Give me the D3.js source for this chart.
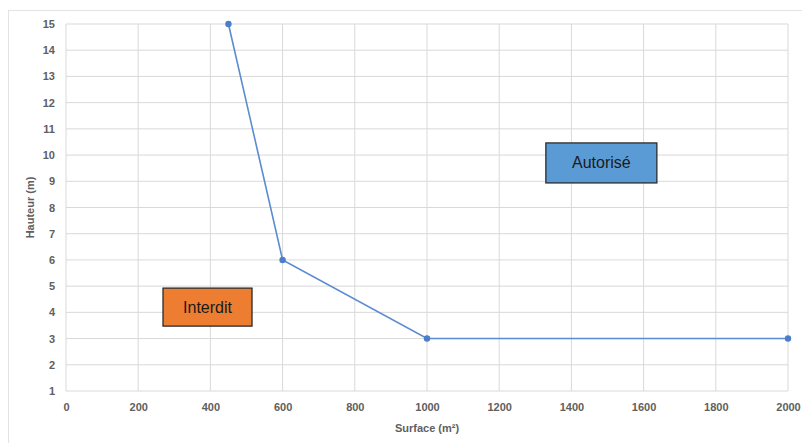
<!DOCTYPE html>
<html><head><meta charset="utf-8">
<script src="https://cdn.jsdelivr.net/npm/d3@7"></script>
<style>body{margin:0;background:#fff}svg{display:block}</style>
</head><body>
<svg id="c" width="802" height="443"></svg>
<script>
const surface = [450, 600, 1000, 2000];
const hauteur = [15, 6, 3, 3];
const xTicks = [0,200,400,600,800,1000,1200,1400,1600,1800,2000];
const yTicks = [1,2,3,4,5,6,7,8,9,10,11,12,13,14,15];
const zoneLabels = ["Interdit", "Autorisé"];
const zoneX = [392, 1483];
const zoneY = [4.2, 9.7];
const zoneColors = ["#ED7D31", "#5B9BD5"];

const svg = d3.select("#c");
const m = {l:66, r:802-788, t:24, b:443-391};
const W = 802, H = 443;
const x = d3.scaleLinear().domain([0,2000]).range([m.l, W-m.r]);
const y = d3.scaleLinear().domain([1,15]).range([H-m.b, m.t]);

svg.append("rect").attr("x",8.5).attr("y",10.5).attr("width",820).attr("height",450)
  .attr("fill","none").attr("stroke","#e3e3e3");

// grid
svg.append("g").selectAll("line").data(xTicks).join("line")
  .attr("x1",d=>x(d)).attr("x2",d=>x(d)).attr("y1",y(1)).attr("y2",y(15))
  .attr("stroke","#d9d9d9").attr("stroke-width",1);
svg.append("g").selectAll("line").data(yTicks).join("line")
  .attr("y1",d=>y(d)).attr("y2",d=>y(d)).attr("x1",x(0)).attr("x2",x(2000))
  .attr("stroke","#d9d9d9").attr("stroke-width",1);

const fontT = "'Liberation Sans', Arial, sans-serif";
// axes
const xa = svg.append("g").attr("transform",`translate(0,${y(1)})`)
  .call(d3.axisBottom(x).tickValues(xTicks).tickSize(0).tickPadding(12).tickFormat(d3.format("d")));
const ya = svg.append("g").attr("transform",`translate(${x(0)},0)`)
  .call(d3.axisLeft(y).tickValues(yTicks).tickSize(0).tickPadding(11).tickFormat(d3.format("d")));
[xa,ya].forEach(a=>{
  a.select(".domain").remove();
  a.selectAll("text").attr("fill","#606060").style("font-family",fontT).style("font-size","11px").style("font-weight","bold");
});

svg.append("text").attr("x",(x(0)+x(2000))/2).attr("y",432).attr("text-anchor","middle")
  .attr("fill","#606060").style("font-family",fontT).style("font-size","11px").style("font-weight","bold")
  .text("Surface (m²)");
svg.append("text").attr("transform",`translate(34,${(y(1)+y(15))/2}) rotate(-90)`).attr("text-anchor","middle")
  .attr("fill","#606060").style("font-family",fontT).style("font-size","11px").style("font-weight","bold")
  .text("Hauteur (m)");

// line
const pts = surface.map((s,i)=>[s,hauteur[i]]);
svg.append("path").datum(pts)
  .attr("d", d3.line().x(d=>x(d[0])).y(d=>y(d[1])))
  .attr("fill","none").attr("stroke","#5B8BD0").attr("stroke-width",1.6);
svg.append("g").selectAll("circle").data(pts).join("circle")
  .attr("cx",d=>x(d[0])).attr("cy",d=>y(d[1])).attr("r",3.2).attr("fill","#4A7EC8");

// zone labels
const boxW = [89, 111], boxH = [38, 40];
zoneLabels.forEach((t,i)=>{
  const cx = x(zoneX[i]), cy = y(zoneY[i]);
  svg.append("rect").attr("x",cx-boxW[i]/2).attr("y",cy-boxH[i]/2).attr("width",boxW[i]).attr("height",boxH[i])
    .attr("fill",zoneColors[i]).attr("stroke","#2b2b2b").attr("stroke-width",1.3);
  svg.append("text").attr("x",cx).attr("y",cy+5.5).attr("text-anchor","middle")
    .attr("fill","#1a1a1a").style("font-family",fontT).style("font-size","16px").text(t);
});
</script>
</body></html>
